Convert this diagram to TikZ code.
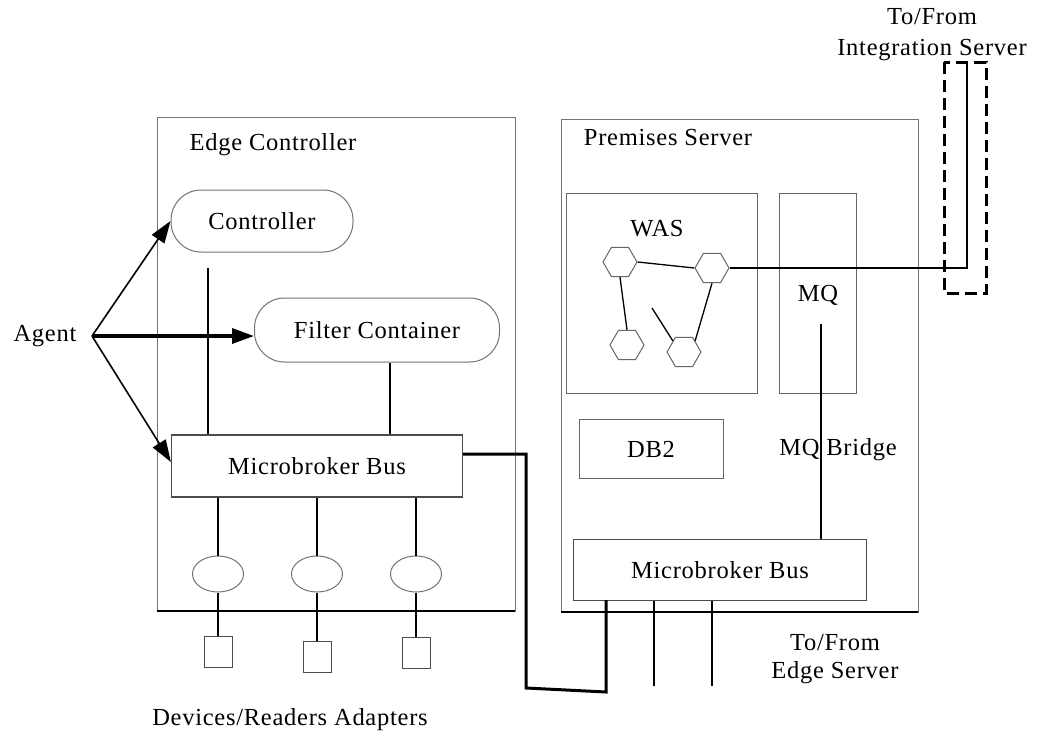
\documentclass[tikz,border=0pt]{standalone}
\usepackage{fontspec}
\setmainfont[LetterSpace=3]{Liberation Serif}
\usetikzlibrary{shapes,arrows,positioning,arrows.meta}

\tikzset{
    frame/.style={draw=black!55, line width=1pt},
    pill/.style={rectangle, draw=black!55, line width=1pt, rounded corners=30pt, fill=white},
    busbox/.style={rectangle, draw=black!70, line width=1.2pt, fill=white},
    hexnode/.style={regular polygon, regular polygon sides=6, draw=black!60, line width=1pt, minimum size=34pt, inner sep=0pt},
    link/.style={black, line width=2pt},
    agentarrow/.style={black, line width=1.6pt, -{Triangle[length=22pt,width=15pt]}}
}

\begin{document}
\begin{tikzpicture}[x=1pt, y=-1pt, font=\fontsize{24.5}{28}\selectfont]
    \useasboundingbox (0,0) rectangle (1061,737);

    % Edge controller side
    \draw[frame] (157,117) rectangle (515,611);
    \draw[link] (157,611) -- (515,611);
    \node (edgelabel) at (273,145) {Edge Controller};

    \node[pill, minimum width=182pt, minimum height=62pt] (controller) at (262,221) {Controller};
    \node[pill, minimum width=245pt, minimum height=64pt] (filter) at (377,330) {Filter Container};
    \node[busbox, minimum width=291pt, minimum height=62pt] (bus) at (317,466) {Microbroker Bus};

    \coordinate (ctlstub) at (208,268);
    \draw[link] (ctlstub) -- (ctlstub |- bus.north);
    \draw[link] (filter.south -| 390,0) -- (bus.north -| 390,0);

    % Adapters below the bus
    \foreach \n/\x/\y in {1/218/652, 2/317/657, 3/416/653} {
        \node[ellipse, draw=black!55, line width=1pt, minimum width=51pt, minimum height=36pt] (adp\n) at (\x,574) {};
        \node[rectangle, draw=black!70, line width=1pt, minimum width=28pt, minimum height=31pt] (dev\n) at (\x,\y) {};
        \draw[link] (bus.south -| adp\n.north) -- (adp\n.north);
        \draw[link] (adp\n.south) -- (dev\n.north);
    }
    \node (devlabel) at (290,720) {Devices/Readers Adapters};

    % Agent
    \node (agent) at (45,336) {Agent};
    \coordinate (agentpt) at (92,336);
    \draw[agentarrow] (agentpt) -- (controller.west);
    \draw[agentarrow, line width=3.5pt] (agentpt) -- (filter.west |- agentpt);
    \draw[agentarrow] (agentpt) -- ([yshift=4pt]bus.west);

    % Premises server side
    \draw[frame] (561,119) rectangle (918,612);
    \draw[link, line width=1.5pt] (561,612) -- (918,612);
    \node (premlabel) at (668,138) {Premises Server};

    \node[rectangle, draw=black!60, line width=1pt, minimum width=191pt, minimum height=200pt] (was) at (662,293) {};
    \node (waslabel) at (657,229) {WAS};
    \node[rectangle, draw=black!60, line width=1pt, minimum width=77pt, minimum height=200pt] (mq) at (818,293) {};
    \node (mqlabel) at (818,295) {MQ};
    \node[rectangle, draw=black!60, line width=1pt, minimum width=144pt, minimum height=59pt] (db) at (651,449) {DB2};

    \node[hexnode] (h1) at (620,262) {};
    \node[hexnode] (h2) at (712,268) {};
    \node[hexnode] (h3) at (627,345) {};
    \node[hexnode] (h4) at (684,352) {};
    \coordinate (hstub) at (652,308);
    \draw[black, line width=1.3pt] (h1.east) -- (h2.west);
    \draw[black, line width=1.3pt] (h1.south) -- (h3.north);
    \draw[black, line width=1.3pt] (h2.south) -- (h4.north east);
    \draw[black, line width=1.3pt] (hstub) -- (h4.north west);

    \node[busbox, minimum width=293pt, minimum height=61pt] (rbus) at (720,570) {Microbroker Bus};

    \coordinate (mqstub) at (821,324);
    \draw[link] (mqstub) -- (mqstub |- rbus.north);
    \node (bridgelabel) at (838,450) {MQ Bridge};

    % To/From integration server
    \node (intlabel) at (932,17) {To/From};
    \node (intlabel2) at (932,50) {Integration Server};
    \coordinate (intend) at (967,62);
    \draw[link] (h2.east) -- (h2.east -| intend) -- (intend);
    \draw[black, line width=3pt, dash pattern=on 12pt off 6pt] (944,62) rectangle (986,293);

    % To/From edge server
    \draw[black, line width=3pt] (bus.east |- 0,454) -- (526,454) -- (526,688) -- (606,692) -- (606,600);
    \foreach \x in {654,712} {
        \draw[link, line width=2.5pt] (rbus.south -| \x,0) -- (\x,686);
    }
    \node (edgesrv) at (835,643) {To/From};
    \node (edgesrv2) at (835,673) {Edge Server};
\end{tikzpicture}
\end{document}
